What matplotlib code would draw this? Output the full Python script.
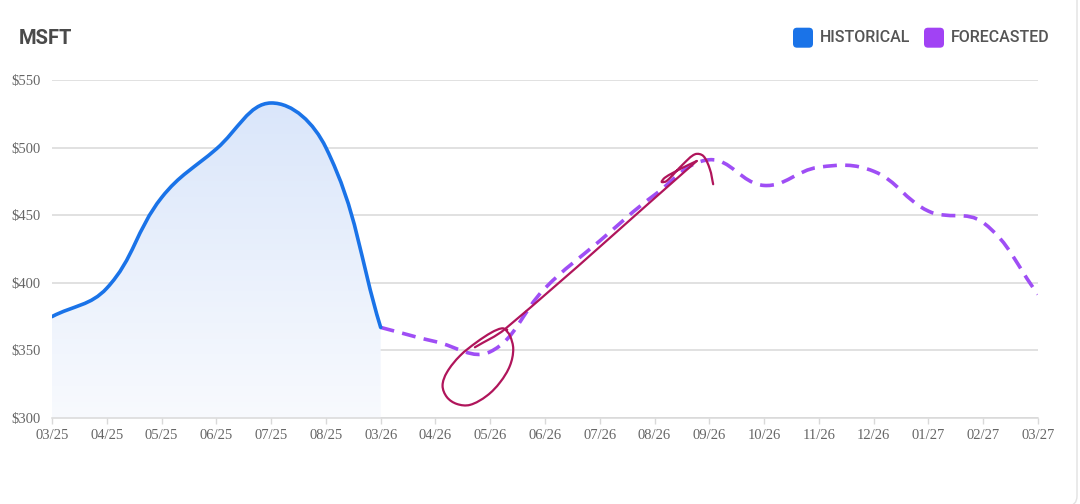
import numpy as np
import matplotlib
matplotlib.use("Agg")
import matplotlib.pyplot as plt
from matplotlib.path import Path
from matplotlib.patches import PathPatch, FancyBboxPatch

plt.rcParams['lines.scale_dashes'] = False

# ---- data ----
month_labels = ["03/25", "04/25", "05/25", "06/25", "07/25", "08/25", "03/26",
                "04/26", "05/26", "06/26", "07/26", "08/26", "09/26", "10/26",
                "11/26", "12/26", "01/27", "02/27", "03/27"]

historical_idx = [0, 1, 2, 3, 4, 5, 6]
historical_price = [375, 396, 463, 499, 533, 500, 367]

forecast_idx = [6, 7, 8, 9, 10, 11, 12, 13, 14, 15, 16, 17, 18]
forecast_price = [367, 356.5, 349, 396, 431, 465, 491, 472, 485.5, 482.5, 453, 444.5, 391.5]

y_ticks = [300, 350, 400, 450, 500, 550]

# hand-drawn markup on top of the chart (x in month index, y in $)
loop_x = [8.27, 8.36, 8.42, 8.36, 8.18, 7.94, 7.63, 7.39, 7.21, 7.13, 7.21, 7.45, 7.75, 8.03, 8.21, 8.31]
loop_y = [365.8, 360.9, 351.0, 338.7, 326.4, 316.5, 309.7, 310.4, 315.4, 323.9, 333.8, 346.1, 356.0, 363.4, 366.3, 365.3]
arrow_x = [7.72, 8.27, 11.77, 11.46, 11.19, 11.13, 11.22, 11.52, 11.74, 11.89, 12.01, 12.07]
arrow_y = [352.3, 365.8, 490.1, 484.0, 477.8, 474.6, 475.3, 487.7, 495.1, 493.8, 484.0, 472.9]

BLUE = "#1A73E8"
PURPLE = "#9F4EF5"
INK = "#B0155B"

fig = plt.figure(figsize=(10.8, 5.04), dpi=100)
fig.patch.set_facecolor("white")

ax = fig.add_axes([52 / 1080, 1 - 418 / 504, 986 / 1080, 338 / 504])
ax.set_xlim(0, len(month_labels) - 1)
ax.set_ylim(300, 550)


def spline_path(xs, ys, tension=0.4):
    # smooth curve through the points, same control-point rule as the web chart
    # (worked out in pixel space, then mapped back to data units)
    pts = ax.transData.transform(np.column_stack([xs, ys]))
    n = len(pts)
    verts = [pts[0]]
    codes = [Path.MOVETO]
    cps = []
    for i in range(n):
        p0 = pts[max(i - 1, 0)]
        p1 = pts[i]
        p2 = pts[min(i + 1, n - 1)]
        d01 = np.hypot(*(p1 - p0))
        d12 = np.hypot(*(p2 - p1))
        s = d01 + d12
        fa = tension * d01 / s if s else 0
        fb = tension * d12 / s if s else 0
        cps.append((p1 - fa * (p2 - p0), p1 + fb * (p2 - p0)))
    for i in range(n - 1):
        verts += [cps[i][1], cps[i + 1][0], pts[i + 1]]
        codes += [Path.CURVE4] * 3
    inv = ax.transData.inverted()
    return [tuple(v) for v in inv.transform(np.array(verts))], codes


# card outline
card = FancyBboxPatch((-0.3, -0.02), 11.07, 5.4, boxstyle="round,pad=0,rounding_size=0.1",
                      transform=fig.dpi_scale_trans, facecolor="none", edgecolor="#e2e2e2",
                      lw=1.0, zorder=0)
fig.patches.append(card)

for yv in y_ticks:
    ax.axhline(yv, color="#d9d9d9", lw=1.1, zorder=1)

# historical line + gradient fill
hv, hc = spline_path(historical_idx, historical_price)
ax.add_patch(PathPatch(Path(hv, hc), facecolor="none", edgecolor=BLUE, lw=2.6,
                       capstyle="round", joinstyle="round", zorder=4))

fill_verts = hv + [(historical_idx[-1], 300), (historical_idx[0], 300), hv[0]]
fill_codes = hc + [Path.LINETO, Path.LINETO, Path.CLOSEPOLY]
fill_patch = PathPatch(Path(fill_verts, fill_codes), facecolor="none", edgecolor="none")
ax.add_patch(fill_patch)
top_c = np.array(matplotlib.colors.to_rgb("#dae6fa"))
bot_c = np.array(matplotlib.colors.to_rgb("#f8fafe"))
t = np.linspace(0, 1, 256)[:, None]
grad = (top_c * (1 - t) + bot_c * t)[:, None, :]
img = ax.imshow(grad, extent=[historical_idx[0], historical_idx[-1], 300, max(historical_price)],
                aspect="auto", origin="upper", zorder=2)
img.set_clip_path(fill_patch)

# forecast dashed line
fv, fc = spline_path(forecast_idx, forecast_price)
ax.add_patch(PathPatch(Path(fv, fc), facecolor="none", edgecolor=PURPLE, lw=2.6,
                       linestyle=(0, (10, 6)), capstyle="butt", zorder=3))

# hand-drawn markup
for mx, my in [(loop_x, loop_y), (arrow_x[:3], arrow_y[:3]), (arrow_x[2:], arrow_y[2:])]:
    mv, mc = spline_path(mx, my, tension=0.35)
    ax.add_patch(PathPatch(Path(mv, mc), facecolor="none", edgecolor=INK, lw=1.6,
                           capstyle="round", joinstyle="round", zorder=6, clip_on=False))

# axes styling
for s in ["top", "right", "left"]:
    ax.spines[s].set_visible(False)
ax.spines["bottom"].set_color("#d9d9d9")
ax.spines["bottom"].set_linewidth(1.1)
ax.set_xticks(range(len(month_labels)))
ax.set_xticklabels(month_labels)
ax.set_yticks(y_ticks)
ax.set_yticklabels([f"${v}" for v in y_ticks])
ax.tick_params(axis="x", length=4, width=1, color="#d9d9d9", pad=4,
               labelsize=10.5, labelcolor="#666666")
ax.tick_params(axis="y", length=0, pad=8, labelsize=10.5, labelcolor="#666666")
for lab in ax.get_xticklabels() + ax.get_yticklabels():
    lab.set_fontfamily("Liberation Serif")

# title and legend
fig.text(0.19, 4.60, "MSFT", transform=fig.dpi_scale_trans, fontsize=14.5,
         fontweight="bold", color="#4a4a4a", family="Roboto", va="baseline")

legend_items = [("HISTORICAL", BLUE, 7.93, 8.20), ("FORECASTED", "#A142F4", 9.24, 9.51)]
for name, col, bx, tx in legend_items:
    sq = FancyBboxPatch((bx, 4.563), 0.2, 0.2, boxstyle="round,pad=0,rounding_size=0.04",
                        transform=fig.dpi_scale_trans, facecolor=col, edgecolor="none")
    fig.patches.append(sq)
    fig.text(tx, 4.617, name, transform=fig.dpi_scale_trans, fontsize=11.5,
             fontweight="medium", color="#555555", family="Roboto", va="baseline")

fig.savefig("out.png", dpi=100)
